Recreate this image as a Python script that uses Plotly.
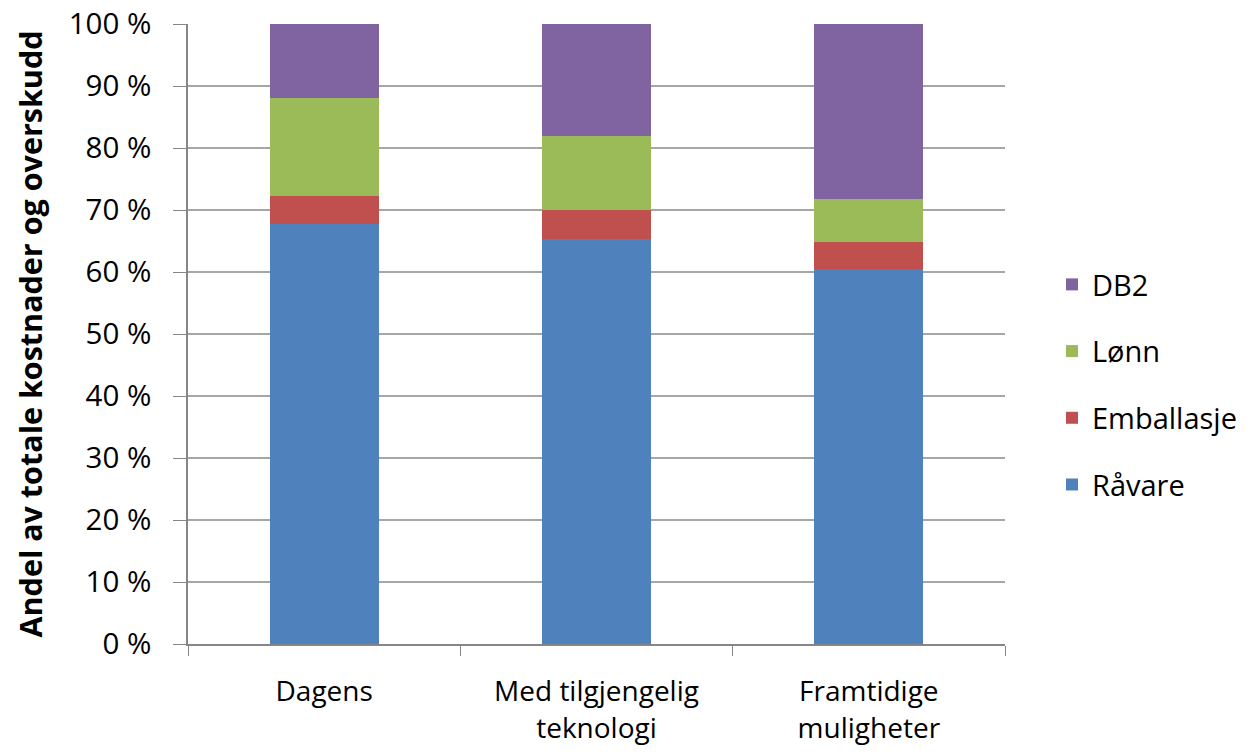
import plotly.graph_objects as go

categories = ["Dagens", "Med tilgjengelig<br>teknologi", "Framtidige<br>muligheter"]
raavare = [67.7, 65.4, 60.5]
emballasje = [4.6, 4.6, 4.3]
lonn = [15.8, 12.0, 6.9]
db2 = [11.9, 18.0, 28.3]

series = [
    ("Råvare", raavare, "#4F81BD", 4),
    ("Emballasje", emballasje, "#C0504D", 3),
    ("Lønn", lonn, "#9BBB59", 2),
    ("DB2", db2, "#8064A2", 1),
]

fig = go.Figure()
for name, vals, col, rank in series:
    fig.add_trace(go.Bar(x=categories, y=vals, name=name, marker_color=col,
                         marker_line_width=0, legendgroup=name, legendrank=rank))

font = "Open Sans, Liberation Sans, sans-serif"
fig.update_layout(
    barmode="stack",
    bargap=0.6,
    width=1241, height=739,
    margin=dict(l=180, r=244, t=16, b=103, autoexpand=False),
    plot_bgcolor="white", paper_bgcolor="white",
    font=dict(family=font, size=28, color="#000000"),
    legend=dict(traceorder="grouped", tracegroupgap=26,
                x=1.0575, xanchor="left", y=0.4185, yanchor="middle",
                font=dict(size=29), itemwidth=30),
    showlegend=True,
)
fig.update_yaxes(range=[0, 100], dtick=10, ticksuffix=" %",
                 tickfont=dict(size=29.5),
                 showgrid=True, gridcolor="#A6A6A6", gridwidth=1.5,
                 showline=True, linecolor="#868686", linewidth=1.5,
                 ticks="outside", ticklen=13, tickcolor="#868686",
                 zeroline=False, automargin=False, ticklabelstandoff=16,
                 ticklabeloverflow="allow",
                 title=dict(text="<b>Andel av totale kostnader og overskudd</b>",
                            font=dict(size=30.5), standoff=17))
fig.update_xaxes(showline=True, linecolor="#868686", linewidth=1.5,
                 ticks="outside", ticklen=10, tickcolor="#868686",
                 tickson="boundaries", ticklabelstandoff=22, automargin=False,
                 ticklabeloverflow="allow")

fig.write_html("out.html")
